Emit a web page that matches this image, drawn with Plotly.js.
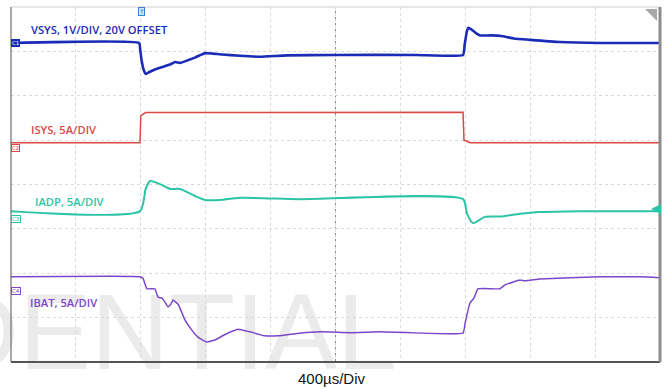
<!DOCTYPE html>
<html><head><meta charset="utf-8">
<script src="https://cdn.plot.ly/plotly-3.0.1.min.js"></script>
<style>html,body{margin:0;padding:0;background:#fff}#chart{width:664px;height:389px}</style>
</head><body><div id="chart"></div>
<script>
// time in microseconds (400 µs/div, 10 div), vertical position in divisions (0..8)
const vsysT = [0, 790, 796, 805, 818, 832, 850, 880, 918, 960, 990, 1011, 1042, 1090, 1134, 1170, 1196, 1240, 1300, 1411, 1535, 1700, 2000, 2500, 2786, 2796, 2808, 2817, 2835, 2870, 2890, 2960, 3032, 3100, 3199, 3384, 3630, 4000];
const vsysY = [7.19, 7.19, 7.05, 6.8, 6.58, 6.49, 6.53, 6.58, 6.63, 6.68, 6.72, 6.76, 6.74, 6.80, 6.86, 6.92, 6.96, 6.95, 6.93, 6.90, 6.88, 6.91, 6.92, 6.92, 6.92, 7.15, 7.42, 7.53, 7.50, 7.40, 7.36, 7.36, 7.34, 7.29, 7.26, 7.21, 7.19, 7.19];

const isysT = [0, 795, 800, 830, 2786, 2792, 2830, 4000];
const isysY = [4.94, 4.94, 5.55, 5.62, 5.63, 5.0, 4.94, 4.94];

const iadpT = [0, 795, 830, 857, 918, 980, 1042, 1134, 1196, 1288, 1411, 1781, 2786, 2810, 2847, 2921, 3014, 3137, 3260, 3507, 4000];
const iadpY = [3.40, 3.40, 3.9, 4.08, 4.01, 3.90, 3.90, 3.74, 3.65, 3.65, 3.70, 3.67, 3.67, 3.35, 3.13, 3.27, 3.28, 3.34, 3.38, 3.40, 3.40];

const ibatT = [0, 600, 795, 814, 838, 887, 906, 931, 949, 968, 985, 998, 1030, 1072, 1110, 1152, 1208, 1260, 1319, 1399, 1473, 1565, 1646, 1780, 1904, 2100, 2274, 2786, 2800, 2829, 2853, 2878, 3014, 3045, 3137, 3168, 3260, 3630, 3877, 4000];
const ibatY = [1.92, 1.93, 1.92, 1.88, 1.65, 1.65, 1.46, 1.44, 1.35, 1.24, 1.30, 1.40, 1.30, 0.95, 0.74, 0.56, 0.45, 0.50, 0.62, 0.74, 0.68, 0.59, 0.59, 0.65, 0.68, 0.66, 0.68, 0.65, 0.9, 1.33, 1.44, 1.65, 1.65, 1.74, 1.85, 1.83, 1.87, 1.92, 1.92, 1.90];

const labels = ['VSYS, 1V/DIV, 20V OFFSET', 'ISYS, 5A/DIV', 'IADP, 5A/DIV', 'IBAT, 5A/DIV'];
const colors = ['#1a2cb5', '#d94a45', '#2cc4a6', '#7b47c9'];
const timeLabel = '400µs/Div';
const watermark = 'DENTIAL';

const traces = [
  {x: vsysT, y: vsysY, mode: 'lines', line: {color: colors[0], width: 2.6, shape: 'spline', smoothing: 0.4}},
  {x: isysT, y: isysY, mode: 'lines', line: {color: colors[1], width: 1.5}},
  {x: iadpT, y: iadpY, mode: 'lines', line: {color: colors[2], width: 2, shape: 'spline', smoothing: 0.6}},
  {x: ibatT, y: ibatY, mode: 'lines', line: {color: colors[3], width: 1.5, shape: 'spline', smoothing: 0.3}}
].map(t => Object.assign(t, {hoverinfo: 'skip', showlegend: false}));

const W = 649, H = 355, L = 11, T = 7;
const px = x => (x - L) / W;           // pixel -> paper x
const py = y => (T + H - y) / H;       // pixel -> paper y

const ann = [];
const labPos = [[110, 7.50], [110, 5.23], [135, 3.61], [104, 1.33]];
labels.forEach((s, i) => ann.push({x: labPos[i][0], y: labPos[i][1], xref: 'x', yref: 'y', text: s,
  showarrow: false, xanchor: 'left', yanchor: 'middle',
  font: {family: 'Open Sans, sans-serif', size: 11.2, weight: 600, color: colors[i]}}));
// channel tags
const tagY = [7.19, 4.82, 3.22, 1.60];
['C1', 'C2', 'C3', 'C4'].forEach((s, i) => ann.push({x: 0, y: tagY[i], xref: 'paper', yref: 'y', text: s,
  showarrow: false, xanchor: 'left', yanchor: 'middle', borderpad: 0, borderwidth: 1,
  bordercolor: colors[i], bgcolor: i === 0 ? colors[0] : '#fff',
  font: {family: 'DejaVu Sans', size: 5.5, color: i === 0 ? '#fff' : colors[i]}}));
// trigger marker
ann.push({x: px(141), y: py(12), xref: 'paper', yref: 'paper', text: 'T', showarrow: false,
  xanchor: 'center', yanchor: 'middle', borderpad: 0, borderwidth: 1, bordercolor: '#3f7fd0', bgcolor: '#d6e6fa',
  font: {family: 'DejaVu Sans', size: 6, color: '#2b5fa8'}});
// right-side teal arrow
ann.push({x: px(651), y: py(209), xref: 'paper', yref: 'paper', text: '', showarrow: true,
  ax: 9, ay: 0, arrowhead: 2, arrowsize: 1, arrowwidth: 2, arrowcolor: colors[2]});
// time/div label
ann.push({x: px(332), y: py(378), xref: 'paper', yref: 'paper', text: timeLabel, showarrow: false,
  xanchor: 'center', yanchor: 'middle', font: {family: 'Liberation Sans, Arial', size: 15, color: '#111'}});

const shapes = [
  // watermark (drawn underneath everything)
  {type: 'rect', xref: 'paper', yref: 'paper', x0: px(-62), x1: px(420), y0: py(360), y1: py(282),
   line: {width: 0}, fillcolor: 'rgba(0,0,0,0)', layer: 'below',
   label: {text: watermark, textposition: 'middle left', padding: 0,
     font: {family: 'Liberation Sans, Arial', size: 108, color: '#ebebeb'}}},
  // centre cross lines
  {type: 'line', xref: 'x', yref: 'paper', x0: 2000, x1: 2000, y0: 0, y1: 1, line: {color: '#8a8a8a', width: 1, dash: 'dot'}, layer: 'below'},
  {type: 'line', xref: 'paper', yref: 'y', x0: 0, x1: 1, y0: 4, y1: 4, line: {color: '#8a8a8a', width: 1, dash: 'dot'}, layer: 'below'},
  // frame
  {type: 'line', xref: 'paper', yref: 'paper', x0: 0, x1: 1, y0: 1, y1: 1, line: {color: '#d0d0d0', width: 1}},
  {type: 'line', xref: 'paper', yref: 'paper', x0: 0, x1: 0, y0: 0, y1: 1, line: {color: '#555', width: 1}},
  {type: 'line', xref: 'paper', yref: 'paper', x0: 0, x1: 1, y0: 0, y1: 0, line: {color: '#555', width: 2}},
  {type: 'line', xref: 'paper', yref: 'paper', x0: 1, x1: 1, y0: 0, y1: 1, line: {color: '#8c8c8c', width: 3}},
  // top-right corner triangle
  {type: 'path', xref: 'paper', yref: 'paper', path: `M ${px(645)} ${py(9)} L ${px(657)} ${py(9)} L ${px(657)} ${py(21)} Z`,
   fillcolor: '#a8a8a8', line: {width: 0}}
];

const layout = {
  width: 664, height: 389,
  margin: {l: L, r: 664 - L - W, t: T, b: 389 - T - H, pad: 0},
  paper_bgcolor: '#fff', plot_bgcolor: 'rgba(0,0,0,0)',
  xaxis: {range: [0, 4000], dtick: 400, tick0: 0, showgrid: true, gridcolor: '#dadada', griddash: 'dot', gridwidth: 1,
    zeroline: false, showticklabels: false, ticks: '', showline: false, fixedrange: true},
  yaxis: {range: [0, 8], dtick: 1, tick0: 0, showgrid: true, gridcolor: '#dadada', griddash: 'dot', gridwidth: 1,
    zeroline: false, showticklabels: false, ticks: '', showline: false, fixedrange: true},
  annotations: ann, shapes: shapes, showlegend: false
};
Plotly.newPlot('chart', traces, layout, {staticPlot: true, displayModeBar: false});
</script></body></html>
